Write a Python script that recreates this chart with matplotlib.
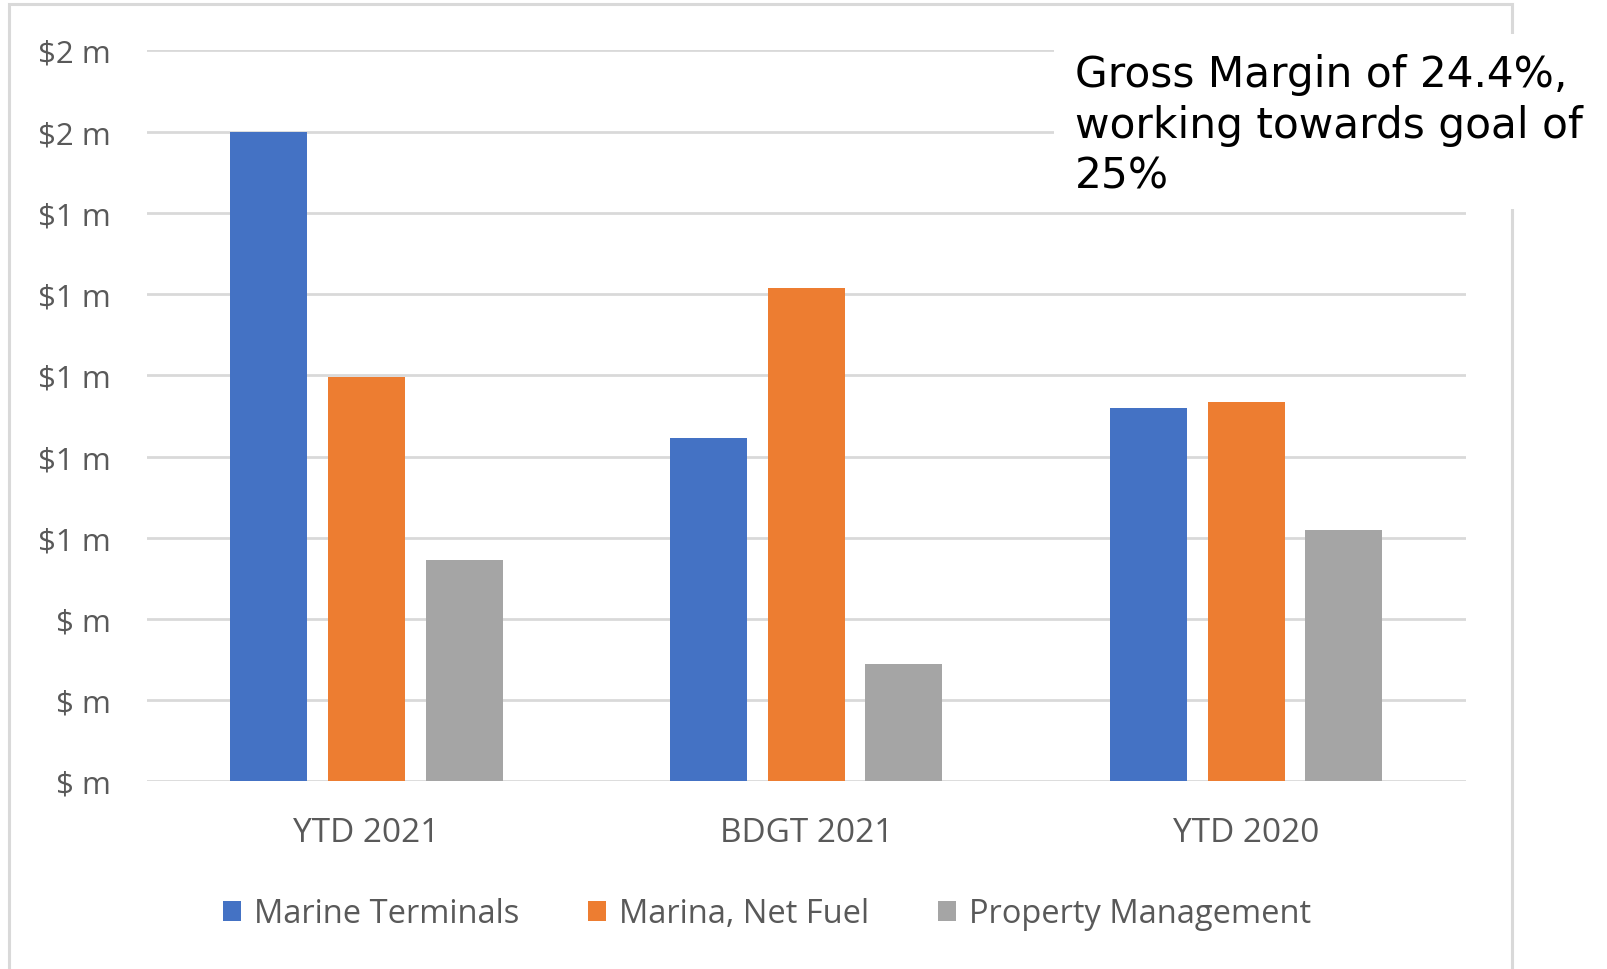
import matplotlib
matplotlib.use("Agg")
import matplotlib.pyplot as plt
import numpy as np
from matplotlib.patches import Rectangle
from matplotlib.ticker import FuncFormatter

# values in $ millions
periods = ["YTD 2021", "BDGT 2021", "YTD 2020"]
marine_terminals = [1.60, 0.845, 0.92]
marina_net_fuel = [0.995, 1.215, 0.935]
property_mgmt = [0.545, 0.29, 0.62]
series_names = ["Marine Terminals", "Marina, Net Fuel", "Property Management"]
colors = ["#4472C4", "#ED7D31", "#A5A5A5"]
yticks = [0, 0.2, 0.4, 0.6, 0.8, 1.0, 1.2, 1.4, 1.6, 1.8]
note = "Gross Margin of 24.4%,\nworking towards goal of\n25%"

txt_color = "#595959"
grid_color = "#D9D9D9"

fig = plt.figure(figsize=(16.08, 9.7), dpi=100)
ax = fig.add_axes([0.0912, 0.1933, 0.8205, 0.7538])

x = np.arange(len(periods))
w = 0.175
step = 0.222
for i, (vals, name, c) in enumerate(zip([marine_terminals, marina_net_fuel, property_mgmt], series_names, colors)):
    ax.bar(x + (i - 1) * step, vals, width=w, color=c, label=name, zorder=3)

ax.set_xlim(-0.5, 2.5)
ax.set_ylim(0, 1.8)
ax.set_yticks(yticks)


def excel_fmt(v, pos):
    r = int(np.floor(v + 0.5 + 1e-9))
    return "$" + (str(r) if r != 0 else "") + " m"


ax.yaxis.set_major_formatter(FuncFormatter(excel_fmt))
ax.set_xticks(x)
ax.set_xticklabels(periods)
ax.grid(axis="y", color=grid_color, linewidth=2.0, zorder=0)
ax.set_axisbelow(True)
for s in ax.spines.values():
    s.set_visible(False)
ax.tick_params(axis="y", length=0, pad=26, labelsize=22.5, labelcolor=txt_color)
ax.tick_params(axis="x", length=0, pad=25, labelsize=24, labelcolor=txt_color)
for lab in ax.get_xticklabels() + ax.get_yticklabels():
    lab.set_fontfamily("Open Sans")

# chart border
fig.patches.append(Rectangle((9 / 1608, -0.02), (1512 - 9) / 1608, 1.02 - 5 / 970,
                             transform=fig.transFigure, fill=False,
                             edgecolor=grid_color, linewidth=2.2, zorder=1))

# note box on top
fig.patches.append(Rectangle((1054 / 1608, 1 - 210 / 970), 1 - 1054 / 1608, (210 - 35) / 970,
                             transform=fig.transFigure, facecolor="white",
                             edgecolor="none", zorder=5))
fig.text(1075 / 1608, 1 - 54 / 970, note, ha="left", va="top", fontsize=30.4,
         family="DejaVu Sans", color="black", linespacing=1.27, zorder=6)

leg = fig.legend(loc="center", bbox_to_anchor=(0.477, 1 - 915 / 970), ncol=3,
                 frameon=False, handlelength=0.55, handleheight=0.55,
                 handletextpad=0.4, columnspacing=2.1,
                 prop={"family": "Open Sans", "size": 23.5})
for t in leg.get_texts():
    t.set_color(txt_color)

fig.savefig("out.png", dpi=100, facecolor="white")
